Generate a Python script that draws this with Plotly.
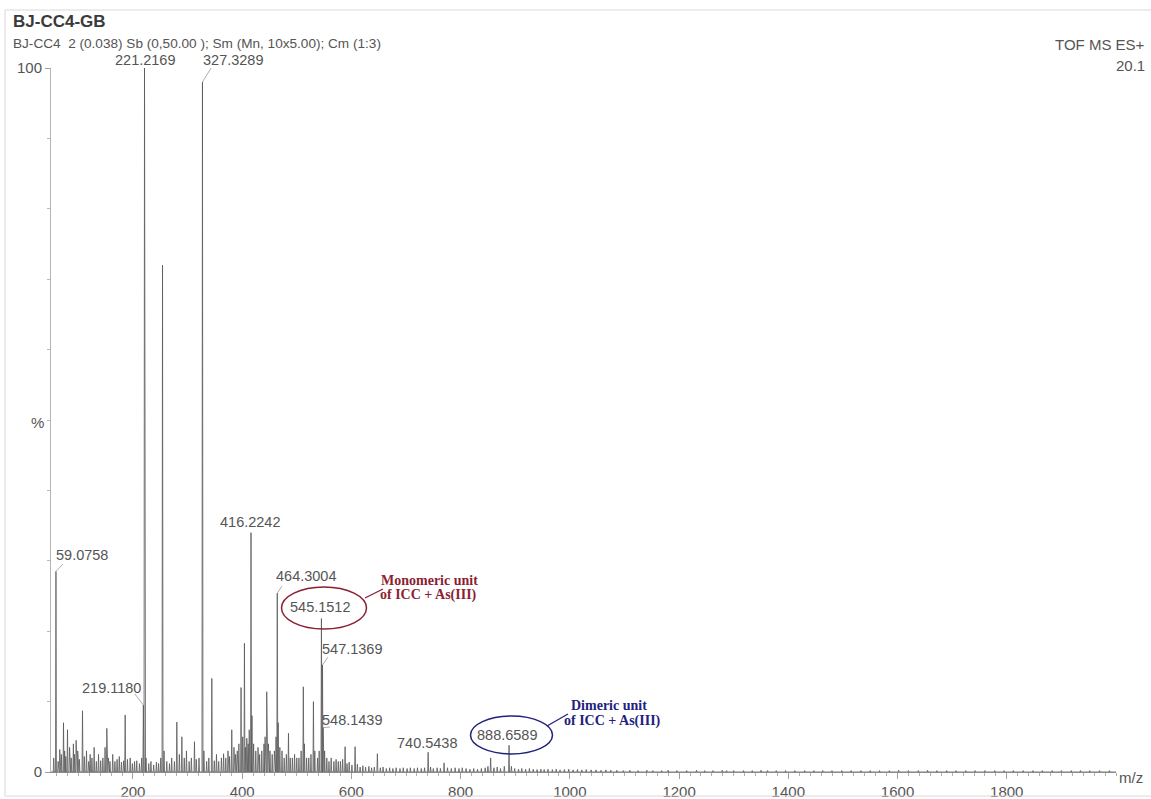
import plotly.graph_objects as go

# ---- spectrum data: m/z and relative intensity (%) ----
labeled_mz = [59.0758, 219.1180, 221.2169, 327.3289, 416.2242, 464.3004,
              545.1512, 547.1369, 548.1439, 740.5438, 888.6589]
labeled_int = [28.5, 9.5, 100.0, 98.0, 34.0, 25.4, 21.8, 15.2, 6.3, 2.8, 3.8]

other_mz = [254.2, 404.2, 344.5, 398.0, 445.0, 512.0, 530.5, 280.4, 312.7,
            107.7, 72.9, 80.2, 152.2, 185.8, 381.0, 484.8, 588.5, 606.8,
            96.0, 121.7, 289.6, 408.5, 647.6, 769.7, 855.0]
other_int = [72.0, 18.3, 13.3, 12.0, 11.4, 12.1, 10.0, 7.1, 4.3,
             8.7, 7.0, 6.0, 6.2, 8.1, 6.0, 5.5, 3.6, 3.6,
             4.5, 2.5, 5.0, 4.8, 2.6, 1.3, 2.0]

noise_mz = [55, 63, 66, 69, 75, 77, 84, 87, 91, 93, 99, 102, 111, 115, 119,
            125, 129, 133, 137, 141, 145, 149, 155, 158, 163, 167, 171, 175,
            179, 183, 190, 195, 199, 203, 207, 212, 216, 224, 229, 233, 238,
            243, 247, 251, 257, 262, 267, 271, 276, 285, 294, 298, 303, 307,
            316, 321, 330, 335, 339, 349, 353, 357, 362, 366, 370, 374, 377,
            385, 388, 391, 394, 401, 406, 411, 413, 418, 421, 425, 429, 432,
            436, 440, 442, 448, 451, 455, 459, 462, 466, 469, 473, 477, 481,
            488, 492, 496, 500, 504, 508, 514, 518, 522, 526, 533, 538, 541,
            551, 555, 559, 563, 568, 572, 576, 580, 584, 592, 596, 601, 611,
            616, 621, 626, 632, 637, 642, 653, 658, 664, 670, 676, 682, 689,
            695, 702, 708, 715, 721, 728, 734, 745, 750, 757, 763, 776, 783,
            790, 797, 803, 810, 817, 824, 831, 838, 845, 850, 861, 867, 873,
            880, 893, 899, 906, 912, 919, 926, 933, 940, 947, 953, 960, 968,
            975, 982, 990, 998, 1006, 1014, 1022, 1030, 1039, 1048, 1057, 1066,
            1075, 1086, 1098, 1110, 1125, 1141, 1152, 1168, 1180, 1196, 1214,
            1232, 1247, 1262, 1279, 1287, 1300, 1318, 1334, 1350, 1362, 1378,
            1395, 1412, 1430, 1447, 1463, 1480, 1498, 1515, 1533, 1550, 1567,
            1585, 1602, 1620, 1638, 1655, 1672, 1690, 1707, 1725, 1742, 1760,
            1778, 1795, 1812, 1830, 1848, 1865, 1883, 1900, 1918, 1935, 1952,
            1970, 1988]
noise_int = [2.0, 1.5, 3.2, 2.5, 3.0, 2.2, 3.5, 2.0, 4.0, 2.5, 3.0, 1.8, 2.2, 3.0, 1.5,
             2.0, 3.5, 1.5, 2.5, 1.6, 2.0, 3.5, 2.0, 1.5, 2.5, 1.5, 1.8, 2.2,
             1.4, 1.6, 1.8, 2.0, 1.2, 1.5, 1.6, 1.2, 2.0, 2.0, 1.2, 1.5, 1.0,
             1.4, 1.2, 2.0, 3.0, 1.5, 1.2, 2.0, 1.5, 2.5, 2.0, 3.0, 1.5, 2.0,
             1.8, 2.0, 3.0, 1.5, 2.0, 1.6, 2.5, 1.5, 2.0, 2.6, 2.0, 3.0, 2.2,
             3.5, 2.5, 3.0, 4.0, 5.0, 3.5, 4.0, 6.0, 8.0, 4.0, 3.0, 3.5, 2.5,
             3.0, 4.0, 5.0, 4.0, 3.0, 2.5, 3.0, 5.0, 7.0, 3.5, 3.0, 2.0, 2.5,
             2.0, 2.0, 2.5, 2.0, 2.0, 3.0, 4.0, 2.0, 2.0, 2.5, 3.0, 2.0, 3.0,
             3.0, 2.0, 1.5, 2.0, 1.5, 1.8, 1.5, 1.5, 1.8, 1.2, 1.4, 1.0, 1.1,
             0.7, 0.9, 0.7, 0.8, 0.6, 0.7, 0.6, 0.7, 0.5, 0.6, 0.5, 0.6, 0.5,
             0.6, 0.5, 0.6, 0.5, 0.6, 0.5, 0.6, 0.7, 0.5, 0.6, 0.5, 0.6, 0.5,
             0.6, 0.5, 0.6, 0.5, 0.4, 0.5, 0.4, 0.5, 0.6, 0.8, 0.6, 0.7, 0.5,
             0.8, 0.8, 0.5, 0.4, 0.5, 0.4, 0.5, 0.4, 0.35, 0.4, 0.35, 0.4, 0.35,
             0.4, 0.3, 0.35, 0.4, 0.3, 0.35, 0.3, 0.35, 0.3, 0.3, 0.25, 0.3,
             0.25, 0.25, 0.2, 0.25, 0.2, 0.25, 0.2, 0.2, 0.25, 0.2, 0.2,
             0.25, 0.2, 0.2, 0.25, 0.2, 0.2, 0.2, 0.2, 0.25, 0.2, 0.2,
             0.2, 0.2, 0.2, 0.2, 0.2, 0.2, 0.2, 0.2, 0.2, 0.2, 0.2,
             0.2, 0.25, 0.2, 0.2, 0.25, 0.2, 0.2, 0.2, 0.2, 0.2, 0.2,
             0.2, 0.2, 0.2, 0.2, 0.2, 0.2, 0.2, 0.2, 0.2, 0.2, 0.2,
             0.2, 0.2]

x_ticks = [200, 400, 600, 800, 1000, 1200, 1400, 1600, 1800]

# ---- plot geometry (pixels) ----
W, H = 1151, 799
L, R, T, B = 51, 1116, 68, 772
X0, X1 = 50, 2000

GRAY = "#555555"
SANS = "Liberation Sans, Arial, sans-serif"
SERIF = "Liberation Serif, Times New Roman, serif"
MAROON = "#8a1f33"
NAVY = "#22227e"


def px_data(px, py):
    """pixel position -> (m/z, %) data coordinates"""
    return X0 + (px - L) / (R - L) * (X1 - X0), (B - py) / (B - T) * 100.0


def px_paper(px, py):
    return (px - L) / (R - L), (B - py) / (B - T)


# ---- build a continuous profile trace from the peak list ----
peaks = sorted(zip(labeled_mz + other_mz + noise_mz,
                   labeled_int + other_int + noise_int))
half_w = 0.9
xs, ys = [X0], [0.0]
for mz, inten in peaks:
    xs += [mz - half_w, mz, mz + half_w]
    ys += [0.0, inten, 0.0]
xs.append(X1)
ys.append(0.0)

fig = go.Figure()
fig.add_trace(go.Scatter(x=xs, y=ys, mode="lines",
                         line=dict(color="#585858", width=0.8),
                         hoverinfo="skip", showlegend=False))

annotations = []
shapes = []

# peak label positions (pixel centres) and optional leader end points
label_layout = {
    59.0758: ((82, 555), (63, 564)),
    219.1180: ((111, 688), (135, 694)),
    221.2169: ((145, 60), None),
    327.3289: ((233, 60), (211, 68)),
    416.2242: ((250, 522), None),
    464.3004: ((306, 576), (282, 586)),
    545.1512: ((320, 607), None),
    547.1369: ((352, 649), (328, 657)),
    548.1439: ((352, 720), (330, 727)),
    740.5438: ((427, 743), None),
    888.6589: ((507, 735), None),
}

for mz, inten in zip(labeled_mz, labeled_int):
    (cx, cy), lead = label_layout[mz]
    lx, ly = px_paper(cx, cy)
    annotations.append(dict(x=lx, y=ly, xref="paper", yref="paper", text=f"{mz:.4f}",
                            showarrow=False, xanchor="center", yanchor="middle",
                            font=dict(family=SANS, size=14.5, color=GRAY)))
    if lead is not None:
        ex, ey = px_data(*lead)
        shapes.append(dict(type="line", xref="x", yref="y", x0=mz, y0=inten,
                           x1=ex, y1=ey, line=dict(color="#9a9a9a", width=0.8)))

# header texts
def paper_text(px, py, text, size, color=GRAY, anchor="left", bold=False, family=SANS):
    xp, yp = px_paper(px, py)
    annotations.append(dict(x=xp, y=yp, xref="paper", yref="paper",
                            text=f"<b>{text}</b>" if bold else text,
                            showarrow=False, xanchor=anchor, yanchor="middle",
                            font=dict(family=family, size=size, color=color)))

paper_text(11, 21, "BJ-CC4-GB", 17, color="#3a3a3a", bold=True)
paper_text(11, 43, "BJ-CC4  2 (0.038) Sb (0,50.00 ); Sm (Mn, 10x5.00); Cm (1:3)", 13.6)
paper_text(1147, 45, "TOF MS ES+", 15, anchor="right")
paper_text(1147, 65, "20.1", 15, anchor="right")
paper_text(37, 422, "%", 15, anchor="center")
paper_text(1117, 777, "m/z", 15)

# callouts
paper_text(429, 580, "Monomeric unit", 14, color=MAROON, anchor="center", bold=True, family=SERIF)
paper_text(428, 595, "of ICC + As(III)", 14, color=MAROON, anchor="center", bold=True, family=SERIF)
paper_text(609, 705, "Dimeric unit", 14, color=NAVY, anchor="center", bold=True, family=SERIF)
paper_text(612, 721, "of ICC + As(III)", 14, color=NAVY, anchor="center", bold=True, family=SERIF)


def paper_ellipse(cx, cy, rx, ry, color):
    x0, y0 = px_paper(cx - rx, cy + ry)
    x1, y1 = px_paper(cx + rx, cy - ry)
    shapes.append(dict(type="circle", xref="paper", yref="paper",
                       x0=x0, y0=y0, x1=x1, y1=y1, line=dict(color=color, width=1.5)))


def paper_line(p0, p1, color, width=1.3):
    x0, y0 = px_paper(*p0)
    x1, y1 = px_paper(*p1)
    shapes.append(dict(type="line", xref="paper", yref="paper",
                       x0=x0, y0=y0, x1=x1, y1=y1, line=dict(color=color, width=width)))


paper_ellipse(324, 608, 42.5, 21, MAROON)
paper_line((365, 598), (383, 589), MAROON)
paper_ellipse(511.5, 735, 41, 19, NAVY)
paper_line((547, 726), (568, 714), NAVY)

# faint page frame: top, left and bottom edges
FRAME = "#d9d9d9"
paper_line((5, 10), (1151, 10), FRAME, 1)
paper_line((5, 10), (5, 796), FRAME, 1)
paper_line((5, 796), (1151, 796), FRAME, 1)

fig.update_layout(
    width=W, height=H,
    margin=dict(l=L, r=W - R, t=T, b=H - B, pad=0, autoexpand=False),
    paper_bgcolor="white", plot_bgcolor="white",
    showlegend=False,
    annotations=annotations,
    shapes=shapes,
    xaxis=dict(range=[X0, X1], tickvals=x_ticks, ticktext=[str(v) for v in x_ticks],
               ticks="outside", ticklen=6, tickcolor="#a0a0a0", tickwidth=1,
               minor=dict(dtick=20, tick0=0, ticks="outside", ticklen=3,
                          tickcolor="#b0b0b0", showgrid=False),
               showline=True, linecolor="#8c8c8c", linewidth=1,
               showgrid=False, zeroline=False, automargin=False,
               tickfont=dict(family=SANS, size=15, color=GRAY)),
    yaxis=dict(range=[0, 100], tickvals=[0, 100], ticktext=["0", "100"],
               ticks="outside", ticklen=5, tickcolor="#a0a0a0",
               minor=dict(dtick=10, tick0=0, ticks="outside", ticklen=3,
                          tickcolor="#b8b8b8", showgrid=False),
               showline=True, linecolor="#b5b5b5", linewidth=1,
               showgrid=False, zeroline=False, automargin=False,
               tickfont=dict(family=SANS, size=15, color=GRAY)),
)

fig.write_html("out.html")
